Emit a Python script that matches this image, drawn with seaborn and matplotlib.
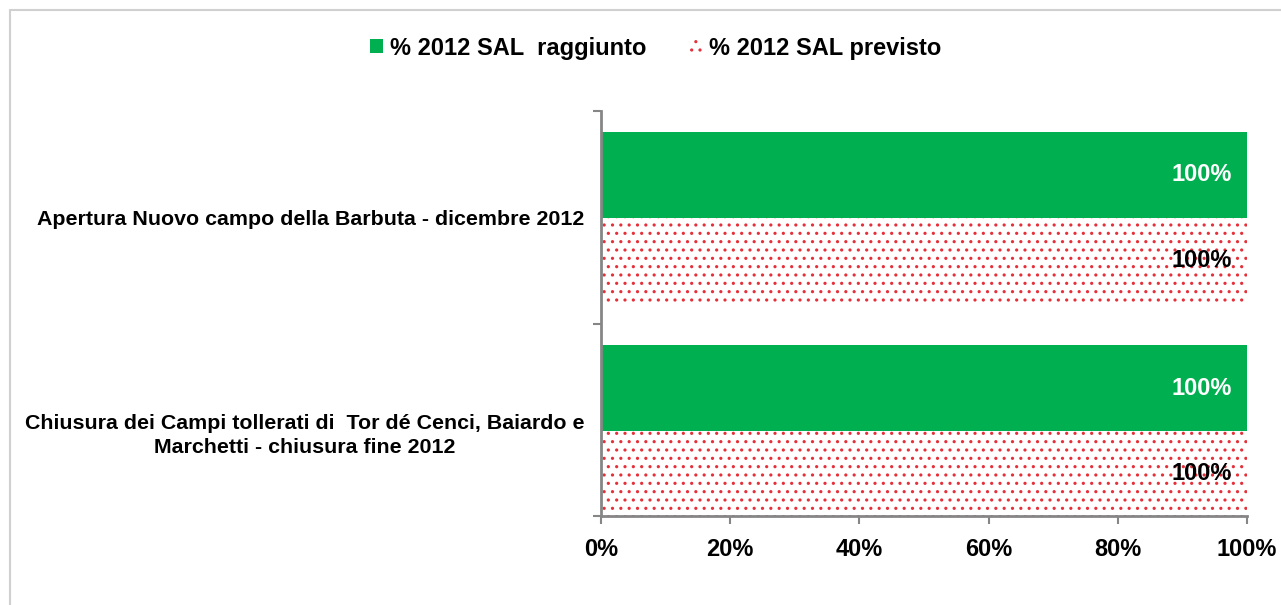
import pandas as pd
import numpy as np
import matplotlib
matplotlib.use("Agg")
import matplotlib.pyplot as plt
import seaborn as sns
from matplotlib.patches import Patch

categories = ["Apertura Nuovo campo della Barbuta - dicembre 2012",
              "Chiusura dei Campi tollerati di  Tor dé Cenci, Baiardo e\nMarchetti - chiusura fine 2012"]
series = ["% 2012 SAL  raggiunto", "% 2012 SAL previsto"]
raggiunto = [1.0, 1.0]
previsto = [1.0, 1.0]
xticks = [0, 0.2, 0.4, 0.6, 0.8, 1.0]
xticklabels = ["0%", "20%", "40%", "60%", "80%", "100%"]

green = "#00B050"
red = "#E5303A"
grey = "#868686"

sns.set_style("white")
plt.rcParams['font.family'] = ['Liberation Sans', 'DejaVu Sans']
plt.rcParams['font.weight'] = 'bold'
plt.rcParams['text.color'] = 'black'
plt.rcParams['xtick.labelcolor'] = 'black'
plt.rcParams['ytick.labelcolor'] = 'black'
plt.rcParams['hatch.linewidth'] = 1.1

d = pd.DataFrame({
    "cat": categories * 2,
    "serie": [series[0]] * 2 + [series[1]] * 2,
    "val": raggiunto + previsto,
})

fig = plt.figure(figsize=(12.81, 6.05), dpi=100)
ax = fig.add_axes([601/1281, 1-516/605, 646/1281, 405/605])

sns.barplot(data=d, y="cat", x="val", hue="serie", order=categories, hue_order=series,
            palette=[green, "white"], orient="h", width=0.8, ax=ax, legend=False,
            saturation=1)

for p in ax.containers[0]:
    p.set_facecolor(green)
    p.set_edgecolor("none")
    p.set_linewidth(0)
for p in ax.containers[1]:
    p.set_facecolor("white")
    p.set_edgecolor(red)
    p.set_linewidth(0)
    p.set_hatch("..")

txt0 = ax.bar_label(ax.containers[0], labels=[f"{v:.0%}" for v in raggiunto],
                    padding=-11, color="white", fontsize=17, fontweight="bold")
txt1 = ax.bar_label(ax.containers[1], labels=[f"{v:.0%}" for v in previsto],
                    padding=-11, color="black", fontsize=17, fontweight="bold")
for t in list(txt0) + list(txt1):
    t.set_ha("right")

ax.set_xlim(0, 1)
ax.set_ylim(1.4, -0.5)
ax.set_xlabel("")
ax.set_ylabel("")

ax.set_xticks(xticks)
ax.set_xticklabels(xticklabels, fontsize=17, fontweight="bold")
ax.tick_params(axis="x", direction="out", length=6, width=1.5, color=grey, pad=10, bottom=True)

ax.set_yticks([-0.5, 0.5, 1.4])
ax.set_yticklabels([])
ax.set_yticks([0, 1], minor=True)
ax.set_yticklabels(categories, minor=True, fontsize=15.4, fontweight="bold",
                   multialignment="center", linespacing=1.35)
ax.tick_params(axis="y", which="major", direction="out", length=6, width=1.5, color=grey, left=True)
ax.tick_params(axis="y", which="minor", length=0, pad=12, left=True)

for s in ["top", "right"]:
    ax.spines[s].set_visible(False)
for s in ["left", "bottom"]:
    ax.spines[s].set_color(grey)
    ax.spines[s].set_linewidth(2)

# legend
handles = [Patch(facecolor=green, edgecolor="none"),
           Patch(facecolor="white", edgecolor=red, hatch="..", linewidth=0)]
fig.legend(handles, series, loc="center", bbox_to_anchor=(0.512, 1-48/605), ncol=2,
           frameon=False, handlelength=0.55, handleheight=0.55, handletextpad=0.3,
           columnspacing=1.8, prop={"size": 17, "weight": "bold"})

# chart area frame
fig.add_artist(plt.Line2D([10/1281, 10/1281], [0, 1-10/605], color="#D0D0D0", lw=1.5))
fig.add_artist(plt.Line2D([10/1281, 1], [1-10/605, 1-10/605], color="#D0D0D0", lw=1.5))

fig.savefig("out.png", dpi=100)
